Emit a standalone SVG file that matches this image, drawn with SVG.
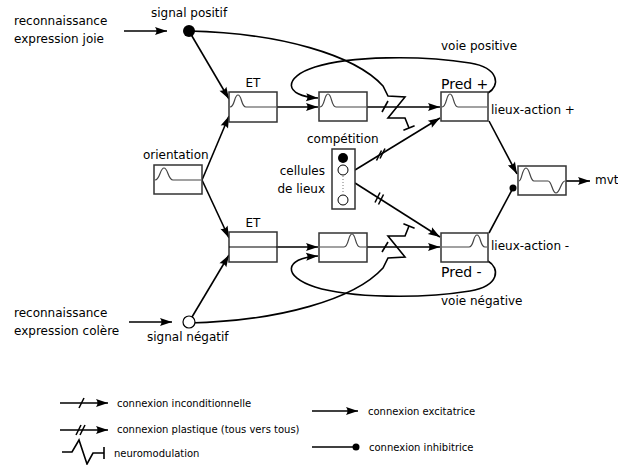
<svg xmlns="http://www.w3.org/2000/svg" width="618" height="465" viewBox="0 0 618 465">
<defs>
<marker id="arr" markerUnits="userSpaceOnUse" markerWidth="14" markerHeight="10" viewBox="-13 -5 14 10" refX="0" refY="0" orient="auto"><path d="M0,0 L-12,-4 Q-9,0 -12,4 Z" fill="#000"/></marker>
<style>
text{font-family:"DejaVu Sans","Liberation Sans",sans-serif;font-size:12px;fill:#000}
.lg{font-size:10px}
.big{font-size:14px}
.ln{fill:none;stroke:#000;stroke-width:1.6}
.ar{fill:none;stroke:#000;stroke-width:1.6;marker-end:url(#arr)}
.box{fill:#fff;stroke:#333;stroke-width:1.5}
.act{fill:none;stroke:#444;stroke-width:1.2}
</style>
</defs>
<rect width="618" height="465" fill="#fff"/>

<g id="connectors">
<line class="ar" x1="124" y1="31" x2="167" y2="31"/>
<line class="ar" x1="129" y1="322" x2="172" y2="322"/>
<line class="ar" x1="189" y1="31" x2="229" y2="99"/>
<line class="ar" x1="189" y1="322" x2="229" y2="255"/>
<line class="ar" x1="202" y1="180" x2="229" y2="116"/>
<line class="ar" x1="202" y1="180" x2="229" y2="238"/>
<line class="ar" x1="277" y1="107" x2="318" y2="107"/>
<line class="ar" x1="277" y1="247" x2="318" y2="247"/>
<line class="ar" x1="367" y1="107" x2="440" y2="107"/>
<line class="ar" x1="367" y1="247" x2="440" y2="247"/>
<line class="ln" x1="382" y1="112" x2="388" y2="101"/>
<line class="ln" x1="382" y1="252" x2="388" y2="242"/>
<line class="ar" x1="355" y1="170" x2="440" y2="118"/>
<line class="ln" x1="376.5" y1="160.5" x2="381.5" y2="150.5"/>
<line class="ln" x1="380" y1="158.5" x2="385" y2="148.5"/>
<line class="ar" x1="355" y1="183" x2="440" y2="237"/>
<line class="ln" x1="375" y1="202.5" x2="380" y2="192.5"/>
<line class="ln" x1="378.5" y1="204.5" x2="383.5" y2="194.5"/>
<line class="ar" x1="489" y1="121" x2="517" y2="174"/>
<line class="ln" x1="489" y1="233" x2="513" y2="188"/>
<circle cx="513" cy="188" r="3.5" fill="#000"/>
<line class="ar" x1="566" y1="181" x2="590" y2="181"/>
<path class="ln" d="M189,31 C280,33 355,55 383,86 L388,96 L405,97 L388,118 L405,118 L409,128"/>
<line class="ln" x1="403.4" y1="130.2" x2="414.6" y2="125.8"/>
<path class="ln" d="M189,323 C280,321 355,299 383,268 L388,258 L405,257 L388,236 L405,236 L409,226"/>
<line class="ln" x1="403.4" y1="223.8" x2="414.6" y2="228.2"/>
<path class="ar" d="M488,93 C500,86 500,68 470,63 C420,55 350,56 315,67 C283,77 283,96 318,98"/>
<path class="ar" d="M488,261 C500,268 500,286 470,291 C420,299 350,298 315,287 C283,277 283,258 318,256"/>
</g>

<g id="reco-joie"><text x="14" y="25">reconnaissance</text><text x="14" y="43">expression joie</text></g>
<g id="signal-positif"><circle cx="189" cy="31" r="6" fill="#000"/><text x="151" y="17">signal positif</text></g>
<g id="reco-colere"><text x="14" y="317">reconnaissance</text><text x="14" y="335">expression colère</text></g>
<g id="signal-negatif"><circle cx="189" cy="322" r="6" fill="#fff" stroke="#000" stroke-width="1.2"/><text x="147" y="341">signal négatif</text></g>

<g id="orientation"><rect class="box" x="154" y="165" width="48" height="29"/><path class="act" d="M155,180 C160,180 160,168 164,168 C168,168 168,180 173,180 L201,180"/><text x="143" y="159">orientation</text></g>
<g id="et-haut"><rect class="box" x="229" y="92" width="48" height="30"/><path class="act" d="M230,107 C235,107 234,95 238,95 C242,95 241,107 246,107 L276,107"/><text x="253" y="87" text-anchor="middle">ET</text></g>
<g id="et-bas"><rect class="box" x="229" y="232" width="48" height="30"/><line x1="229" y1="247" x2="277" y2="247" stroke="#000" stroke-width="1.2"/><text x="253" y="227" text-anchor="middle">ET</text></g>
<g id="mid-haut"><rect class="box" x="319" y="92" width="48" height="29"/><path class="act" d="M320,107 C325,107 324,94 328,94 C332,94 331,107 336,107 L366,107"/></g>
<g id="mid-bas"><rect class="box" x="319" y="233" width="48" height="29"/><path class="act" d="M320,247 L344,247 C349,247 348,234 352,234 C356,234 355,247 360,247 L366,247"/></g>
<g id="pred-plus"><rect class="box" x="441" y="92" width="47" height="29"/><path class="act" d="M442,107 C447,107 446,94 450,94 C454,94 453,107 458,107 L487,107"/><text class="big" x="441" y="89">Pred +</text><text x="491" y="114">lieux-action +</text><text x="441" y="50">voie positive</text></g>
<g id="pred-moins"><rect class="box" x="441" y="233" width="47" height="29"/><path class="act" d="M442,247 L469,247 C474,247 473,235 477,235 C481,235 480,247 485,247 L487,247"/><text class="big" x="441" y="277">Pred -</text><text x="491" y="250">lieux-action -</text><text x="441" y="305">voie négative</text></g>
<g id="cellules"><rect x="332" y="149" width="23" height="60" fill="#fff" stroke="#333" stroke-width="1.5"/><circle cx="343" cy="158" r="5" fill="#000"/><circle cx="343" cy="170" r="5" fill="#fff" stroke="#000" stroke-width="1"/><line x1="343" y1="176" x2="343" y2="194" stroke="#777" stroke-width="1" stroke-dasharray="1,2"/><circle cx="343" cy="200" r="5" fill="#fff" stroke="#000" stroke-width="1"/><text x="307" y="143">compétition</text><text x="325" y="175" text-anchor="end">cellules</text><text x="325" y="193" text-anchor="end">de lieux</text></g>
<g id="mvt"><rect class="box" x="518" y="166" width="48" height="29"/><path class="act" d="M519,181 C522,181 522,168 526,168 C530,168 530,181 534,181 L548,181 C552,181 552,193 556,193 C560,193 561,181 565,181"/><text x="595" y="184">mvt</text></g>

<g id="legende">
<line class="ar" x1="60" y1="403" x2="108" y2="403"/><line class="ln" x1="79" y1="408" x2="84" y2="398"/>
<text class="lg" x="117" y="407">connexion inconditionnelle</text>
<line class="ar" x1="60" y1="430" x2="108" y2="430"/><line class="ln" x1="76" y1="435" x2="81" y2="425"/><line class="ln" x1="80" y1="435" x2="85" y2="425"/>
<text class="lg" x="117" y="433">connexion plastique (tous vers tous)</text>
<path class="ln" d="M62,452 L72,452 L79,440 L87,464 L93,453 L104,453"/><line class="ln" x1="104" y1="447" x2="104" y2="459"/>
<text class="lg" x="114" y="457">neuromodulation</text>
<line class="ar" x1="312" y1="411" x2="358" y2="411"/>
<text class="lg" x="368" y="415">connexion excitatrice</text>
<line class="ln" x1="312" y1="447" x2="354" y2="447"/><circle cx="356" cy="447" r="3.5" fill="#000"/>
<text class="lg" x="369" y="451">connexion inhibitrice</text>
</g>
</svg>
